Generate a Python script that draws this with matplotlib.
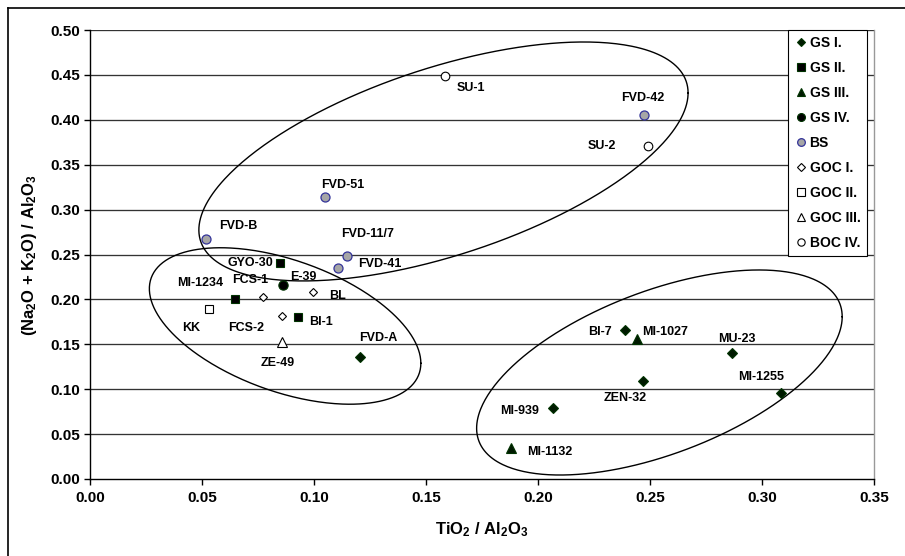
import numpy as np
import matplotlib
matplotlib.use("Agg")
import matplotlib.pyplot as plt
from matplotlib.lines import Line2D

plt.rcParams['font.family'] = ['Liberation Sans', 'DejaVu Sans']
plt.rcParams['font.weight'] = 'bold'
plt.rcParams['mathtext.fontset'] = 'custom'
plt.rcParams['mathtext.rm'] = 'Liberation Sans:bold'
plt.rcParams['mathtext.it'] = 'Liberation Sans:bold'
plt.rcParams['mathtext.bf'] = 'Liberation Sans:bold'

# ---------------- data ----------------
gs1_names = ["FVD-A", "BI-7", "MU-23", "ZEN-32", "MI-1255", "MI-939"]
gs1_x = [0.1205, 0.2388, 0.2865, 0.2470, 0.3084, 0.2068]
gs1_y = [0.1359, 0.1659, 0.1400, 0.1095, 0.0954, 0.0791]

gs2_names = ["GYO-30", "MI-1234", "BI-1"]
gs2_x = [0.0848, 0.0647, 0.0927]
gs2_y = [0.2409, 0.2004, 0.1807]

gs3_names = ["MI-1027", "MI-1132"]
gs3_x = [0.2443, 0.1879]
gs3_y = [0.1559, 0.0342]

gs4_names = ["E-39"]
gs4_x = [0.0863]
gs4_y = [0.2160]

bs_names = ["FVD-B", "FVD-51", "FVD-11/7", "FVD-41", "FVD-42"]
bs_x = [0.0517, 0.1050, 0.1146, 0.1108, 0.2473]
bs_y = [0.2673, 0.3137, 0.2487, 0.2353, 0.4050]

goc1_names = ["FCS-1", "BL", "FCS-2"]
goc1_x = [0.0774, 0.0997, 0.0858]
goc1_y = [0.2030, 0.2079, 0.1819]

goc2_names = ["KK"]
goc2_x = [0.0533]
goc2_y = [0.1893]

goc3_names = ["ZE-49"]
goc3_x = [0.0856]
goc3_y = [0.1526]

boc4_names = ["SU-1", "SU-2"]
boc4_x = [0.1585, 0.2490]
boc4_y = [0.4491, 0.3708]

x_ticks = [0.00, 0.05, 0.10, 0.15, 0.20, 0.25, 0.30, 0.35]
y_ticks = [0.00, 0.05, 0.10, 0.15, 0.20, 0.25, 0.30, 0.35, 0.40, 0.45, 0.50]

# grouping ellipses: centre (x, y), conjugate half-diameter (ux, uy), vertical half-chord h
ellipse_centres = [(0.1578, 0.3536), (0.0871, 0.1704), (0.2542, 0.1186)]
ellipse_u = [(0.1092, 0.0763), (0.0606, -0.0415), (0.0816, 0.0621)]
ellipse_h = [0.1090, 0.0766, 0.0958]

# label offsets in pixels (dx, dy)
label_offsets = {
    "FVD-A": (18, 19), "BI-7": (-25, -2), "MU-23": (5, 14), "ZEN-32": (-18, -17),
    "MI-1255": (-20, 16), "MI-939": (-34, -3),
    "GYO-30": (-30, 0), "MI-1234": (-35, 16), "BI-1": (23, -5),
    "MI-1027": (28, 7), "MI-1132": (39, -4),
    "E-39": (20, 8),
    "FVD-B": (33, 13), "FVD-51": (18, 12), "FVD-11/7": (21, 22), "FVD-41": (42, 4),
    "FVD-42": (-1, 17),
    "FCS-1": (-13, 17), "BL": (24, -4), "FCS-2": (-36, -12),
    "KK": (-18, -19), "ZE-49": (-4, -21),
    "SU-1": (26, -12), "SU-2": (-46, 0),
}

W, H = 905, 556
fig = plt.figure(figsize=(W / 100, H / 100), dpi=100)
ax = fig.add_axes([90 / W, 1 - 479 / H, 784 / W, 449 / H])

ax.set_xlim(0, 0.35)
ax.set_ylim(0, 0.50)

# gridlines
for yv in y_ticks[1:]:
    ax.axhline(yv, color='#333333', lw=0.95, zorder=1)

dk = '#003300'
series = [
    ("GS I.", gs1_names, gs1_x, gs1_y, dict(marker='D', ms=5.0, mfc='#001a00', mec=dk, mew=0.8)),
    ("GS II.", gs2_names, gs2_x, gs2_y, dict(marker='s', ms=6.0, mfc='#000000', mec=dk, mew=0.8)),
    ("GS III.", gs3_names, gs3_x, gs3_y, dict(marker='^', ms=6.5, mfc='#001a00', mec=dk, mew=0.8)),
    ("GS IV.", gs4_names, gs4_x, gs4_y, dict(marker='o', ms=6.7, mfc='#000000', mec=dk, mew=0.8)),
    ("BS", bs_names, bs_x, bs_y, dict(marker='o', ms=6.5, mfc='#a6a6a6', mec='#333399', mew=0.9)),
    ("GOC I.", goc1_names, goc1_x, goc1_y, dict(marker='D', ms=4.5, mfc='white', mec='black', mew=0.8)),
    ("GOC II.", goc2_names, goc2_x, goc2_y, dict(marker='s', ms=6.0, mfc='white', mec='black', mew=0.8)),
    ("GOC III.", goc3_names, goc3_x, goc3_y, dict(marker='^', ms=6.5, mfc='white', mec='black', mew=0.8)),
    ("BOC IV.", boc4_names, boc4_x, boc4_y, dict(marker='o', ms=6.2, mfc='white', mec='black', mew=0.8)),
]

handles = []
for lab, names, xs, ys, st in series:
    h, = ax.plot(xs, ys, ls='none', zorder=4, label=lab, **st)
    handles.append(h)
    for n, xv, yv in zip(names, xs, ys):
        dx, dy = label_offsets[n]
        ax.annotate(n, (xv, yv), xytext=(dx, dy), textcoords='offset pixels',
                    ha='center', va='center', fontsize=9, fontweight='bold', zorder=5)

# ellipses
t = np.linspace(0, 2 * np.pi, 400)
for (cx, cy), (ux, uy), hh in zip(ellipse_centres, ellipse_u, ellipse_h):
    ax.plot(cx + ux * np.cos(t), cy + uy * np.cos(t) + hh * np.sin(t),
            color='black', lw=1.0, zorder=3)

# spines
ax.spines['left'].set_color('black')
ax.spines['bottom'].set_color('black')
ax.spines['right'].set_color('#999999')
ax.spines['top'].set_visible(False)
for s in ax.spines.values():
    s.set_linewidth(1.0)

ax.set_xticks(x_ticks)
ax.set_yticks(y_ticks)
ax.set_xticklabels([f"{v:.2f}" for v in x_ticks])
ax.set_yticklabels([f"{v:.2f}" for v in y_ticks])
ax.tick_params(axis='both', direction='out', length=4, width=1.0, colors='black',
               labelsize=11)
ax.tick_params(axis='x', pad=5)
ax.tick_params(axis='y', pad=3)
for lbl in ax.get_xticklabels() + ax.get_yticklabels():
    lbl.set_fontweight('bold')

ax.set_xlabel("TiO$_2$ / Al$_2$O$_3$", fontsize=12, fontweight='bold', labelpad=11)
ax.set_ylabel("(Na$_2$O + K$_2$O) / Al$_2$O$_3$", fontsize=12, fontweight='bold', labelpad=8)

leg = fig.legend(handles=handles, loc='upper left', bbox_to_anchor=(788 / W, 1 - 30 / H),
                 frameon=True, fancybox=False, edgecolor='black', framealpha=1,
                 prop={'weight': 'bold', 'size': 10}, handlelength=0.9, handletextpad=0.2,
                 labelspacing=0.79, borderpad=0.45, borderaxespad=0, markerscale=0.85)
leg.get_frame().set_linewidth(0.8)

# outer chart border
fig.add_artist(Line2D([8 / W, 1.0], [1 - 7.5 / H, 1 - 7.5 / H], color='black', lw=1.2,
                      transform=fig.transFigure))
fig.add_artist(Line2D([8 / W, 8 / W], [0.0, 1 - 7.5 / H], color='black', lw=1.2,
                      transform=fig.transFigure))

fig.savefig("out.png", dpi=100)
